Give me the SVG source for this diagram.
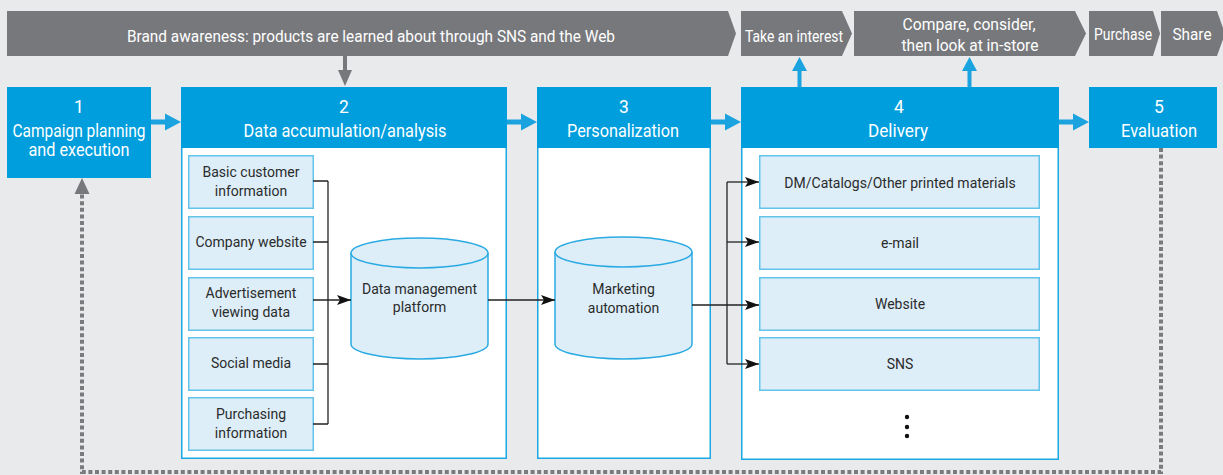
<svg xmlns="http://www.w3.org/2000/svg" width="1223" height="475" viewBox="0 0 1223 475">
  <style>
    .banner { fill: #77787c; }
    .btxt { fill: #ffffff; font-family: Roboto, "Liberation Sans", sans-serif; font-size: 16px; text-anchor: middle; }
    .head { fill: #009edd; }
    .htxt { fill: #ffffff; font-family: Roboto, "Liberation Sans", sans-serif; font-size: 17.5px; text-anchor: middle; }
    .body { fill: #ffffff; stroke: #1ba8e2; stroke-width: 1.5; }
    .item { fill: #ddeef9; stroke: #63c3eb; stroke-width: 1.5; }
    .itxt { fill: #2b2b2b; font-family: Roboto, "Liberation Sans", sans-serif; font-size: 14px; text-anchor: middle; }
    .cyl { fill: #ddeef9; stroke: #2aaae2; stroke-width: 1.5; }
    .wire { fill: none; stroke: #222222; stroke-width: 1.3; }
    .blue { fill: #1aa3de; }
    .grey { fill: #77787c; }
    .dash { fill: none; stroke: #7a7b7e; stroke-width: 4; stroke-dasharray: 4 2.6; }
  </style>
  <defs>
    <marker id="tip" viewBox="0 0 14 10" refX="14" refY="5" markerWidth="14" markerHeight="10" markerUnits="userSpaceOnUse" orient="auto">
      <path d="M0,0 L14,5 L0,10 L3,5 Z" fill="#111111"/>
    </marker>
  </defs>

  <rect width="1223" height="475" fill="#e9eaec"/>

  <!-- customer journey banner -->
  <g id="journey">
    <polygon class="banner" points="7,11 728,11 736,33.5 728,56 7,56"/>
    <text class="btxt" x="371" y="42" textLength="488" lengthAdjust="spacingAndGlyphs">Brand awareness: products are learned about through SNS and the Web</text>
    <polygon class="banner" points="741,11 842,11 852,33.5 842,56 741,56"/>
    <text class="btxt" x="794" y="42" textLength="98" lengthAdjust="spacingAndGlyphs">Take an interest</text>
    <polygon class="banner" points="854,11 1075,11 1086,33.5 1075,56 854,56"/>
    <text class="btxt" x="969" y="30" textLength="133" lengthAdjust="spacingAndGlyphs">Compare, consider,</text>
    <text class="btxt" x="970" y="51" textLength="137" lengthAdjust="spacingAndGlyphs">then look at in-store</text>
    <polygon class="banner" points="1089,11 1153,11 1160,33.5 1153,56 1089,56"/>
    <text class="btxt" x="1123" y="40" textLength="58" lengthAdjust="spacingAndGlyphs">Purchase</text>
    <polygon class="banner" points="1161,11 1217,11 1225,33.5 1217,56 1161,56"/>
    <text class="btxt" x="1192" y="40" textLength="39" lengthAdjust="spacingAndGlyphs">Share</text>
  </g>

  <!-- step 1 -->
  <g id="step1">
    <rect class="head" x="7" y="87" width="144" height="91"/>
    <text class="htxt" x="79" y="113">1</text>
    <text class="htxt" x="79" y="137" textLength="133" lengthAdjust="spacingAndGlyphs">Campaign planning</text>
    <text class="htxt" x="79" y="156" textLength="101" lengthAdjust="spacingAndGlyphs">and execution</text>
  </g>

  <!-- step 2 -->
  <g id="step2">
    <rect class="body" x="181.75" y="147" width="324.5" height="311.25"/>
    <rect class="head" x="181" y="87" width="326" height="61"/>
    <text class="htxt" x="344" y="113">2</text>
    <text class="htxt" x="345" y="137" textLength="203" lengthAdjust="spacingAndGlyphs">Data accumulation/analysis</text>
  </g>
  <g id="src-basic">
    <rect class="item" x="188.75" y="155.75" width="124.5" height="52.5"/>
    <text class="itxt" x="251" y="177">Basic customer</text>
    <text class="itxt" x="251" y="196">information</text>
  </g>
  <g id="src-website">
    <rect class="item" x="188.75" y="216.75" width="124.5" height="52.5"/>
    <text class="itxt" x="251" y="247">Company website</text>
  </g>
  <g id="src-ads">
    <rect class="item" x="188.75" y="277.75" width="124.5" height="52.5"/>
    <text class="itxt" x="251" y="298">Advertisement</text>
    <text class="itxt" x="251" y="317">viewing data</text>
  </g>
  <g id="src-social">
    <rect class="item" x="188.75" y="337.75" width="124.5" height="52.5"/>
    <text class="itxt" x="251" y="368">Social media</text>
  </g>
  <g id="src-purchase">
    <rect class="item" x="188.75" y="397.75" width="124.5" height="52.5"/>
    <text class="itxt" x="251" y="419">Purchasing</text>
    <text class="itxt" x="251" y="438">information</text>
  </g>
  <g id="dmp">
    <path class="cyl" d="M351,253 V344 A68.5,15 0 0 0 488,344 V253"/>
    <ellipse class="cyl" cx="419.5" cy="253" rx="68.5" ry="15"/>
    <text class="itxt" x="419.5" y="294">Data management</text>
    <text class="itxt" x="419.5" y="312">platform</text>
  </g>

  <!-- step 3 -->
  <g id="step3">
    <rect class="body" x="537.75" y="147" width="172.5" height="311.25"/>
    <rect class="head" x="537" y="87" width="174" height="61"/>
    <text class="htxt" x="624" y="113">3</text>
    <text class="htxt" x="623" y="137" textLength="112" lengthAdjust="spacingAndGlyphs">Personalization</text>
  </g>
  <g id="ma">
    <path class="cyl" d="M555,252 V344 A68.5,15 0 0 0 692,344 V252"/>
    <ellipse class="cyl" cx="623.5" cy="252" rx="68.5" ry="15"/>
    <text class="itxt" x="623.5" y="294">Marketing</text>
    <text class="itxt" x="623.5" y="313">automation</text>
  </g>

  <!-- step 4 -->
  <g id="step4">
    <rect class="body" x="741.75" y="147" width="316.5" height="312.25"/>
    <rect class="head" x="741" y="87" width="318" height="61"/>
    <text class="htxt" x="899" y="113">4</text>
    <text class="htxt" x="898" y="137" textLength="60" lengthAdjust="spacingAndGlyphs">Delivery</text>
    <circle cx="907" cy="417" r="2.2" fill="#111111"/>
    <circle cx="907" cy="427" r="2.2" fill="#111111"/>
    <circle cx="907" cy="436" r="2.2" fill="#111111"/>
  </g>
  <g id="out-print">
    <rect class="item" x="759.75" y="155.75" width="279.5" height="52.5"/>
    <text class="itxt" x="900" y="188">DM/Catalogs/Other printed materials</text>
  </g>
  <g id="out-email">
    <rect class="item" x="759.75" y="216.75" width="279.5" height="52.5"/>
    <text class="itxt" x="900" y="248">e-mail</text>
  </g>
  <g id="out-web">
    <rect class="item" x="759.75" y="277.75" width="279.5" height="52.5"/>
    <text class="itxt" x="900" y="309">Website</text>
  </g>
  <g id="out-sns">
    <rect class="item" x="759.75" y="337.75" width="279.5" height="52.5"/>
    <text class="itxt" x="900" y="369">SNS</text>
  </g>

  <!-- step 5 -->
  <g id="step5">
    <rect class="head" x="1089" y="87" width="128" height="61"/>
    <text class="htxt" x="1159" y="113">5</text>
    <text class="htxt" x="1159" y="137" textLength="76" lengthAdjust="spacingAndGlyphs">Evaluation</text>
  </g>

  <!-- connectors -->
  <g id="connectors">
    <!-- banner to step 2 -->
    <path class="grey" d="M343,56 H347 V70 H352 L345,86 L338,70 H343 Z"/>
    <!-- flow between steps -->
    <path class="blue" d="M151,119.5 H165 V113.5 L181,122 L165,130.5 V124.5 H151 Z"/>
    <path class="blue" d="M507,119.5 H521 V113.5 L537,122 L521,130.5 V124.5 H507 Z"/>
    <path class="blue" d="M711,119.5 H725 V113.5 L741,122 L725,130.5 V124.5 H711 Z"/>
    <path class="blue" d="M1059,119.5 H1073 V113.5 L1089,122 L1073,130.5 V124.5 H1059 Z"/>
    <!-- delivery feeding journey stages -->
    <path class="blue" d="M797.5,87 V71 H792 L799.5,57 L807,71 H801.5 V87 Z"/>
    <path class="blue" d="M967.5,87 V71 H962 L969.5,57 L977,71 H971.5 V87 Z"/>
    <!-- sources into DMP -->
    <path class="wire" d="M313,181 H328 M313,242 H328 M313,364 H328 M313,424 H328 M328,181 V424"/>
    <path class="wire" d="M313,300 H351" marker-end="url(#tip)"/>
    <!-- DMP into marketing automation -->
    <path class="wire" d="M488,300 H555" marker-end="url(#tip)"/>
    <!-- marketing automation out to channels -->
    <path class="wire" d="M727,182 V364"/>
    <path class="wire" d="M692,305 H759" marker-end="url(#tip)"/>
    <path class="wire" d="M727,182 H759" marker-end="url(#tip)"/>
    <path class="wire" d="M727,242 H759" marker-end="url(#tip)"/>
    <path class="wire" d="M727,364 H759" marker-end="url(#tip)"/>
    <!-- evaluation feedback loop -->
    <path class="dash" d="M1161,148 V472 H82 V192"/>
    <path class="grey" d="M82,178 L89.5,194 H74.5 Z"/>
  </g>
</svg>
